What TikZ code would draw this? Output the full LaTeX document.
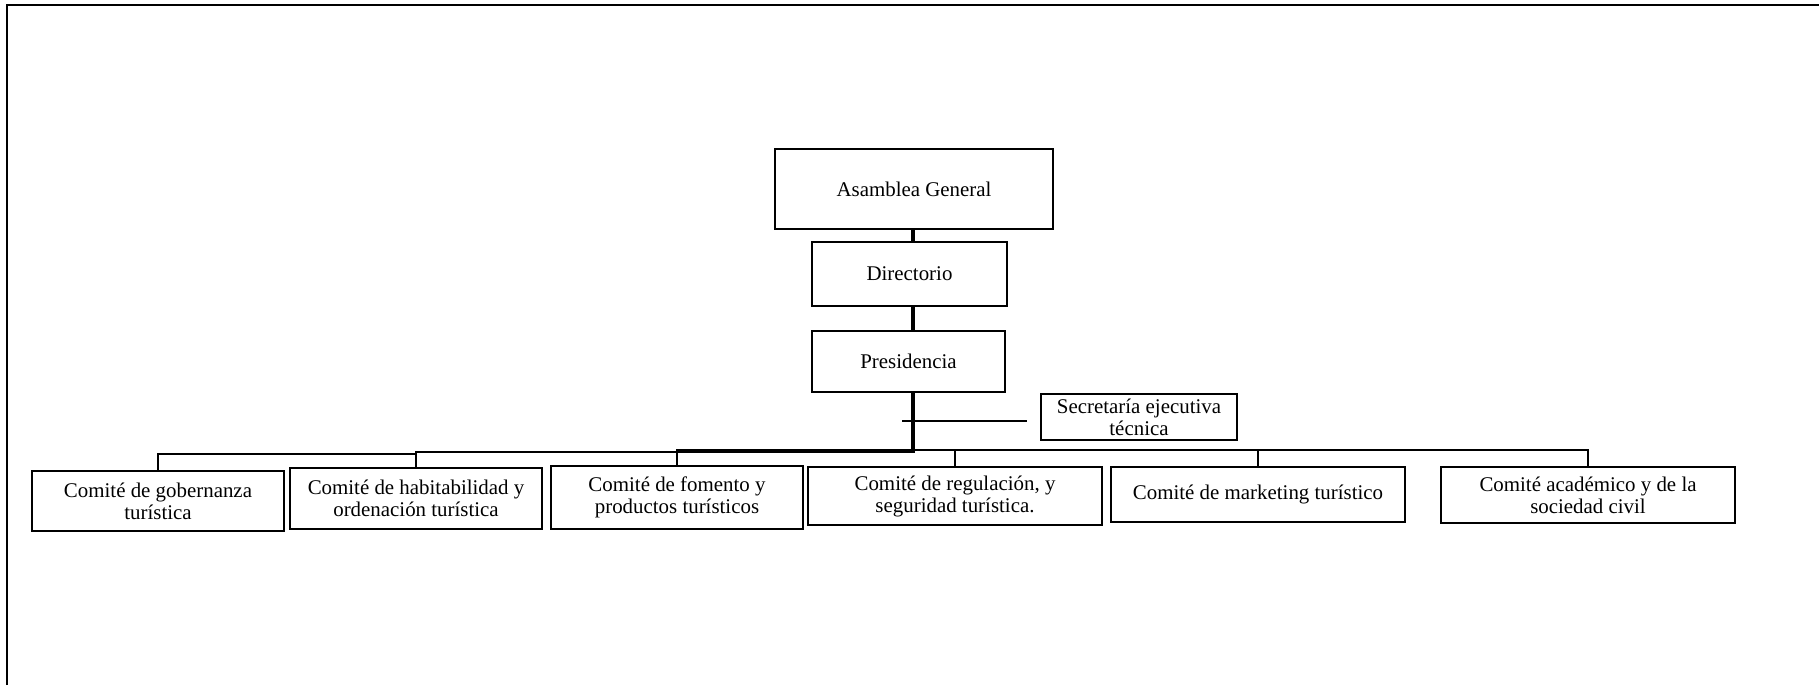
\documentclass[tikz,border=0pt]{standalone}
\usepackage{fontspec}
\setmainfont{Liberation Serif}
\begin{document}
% one unit = one pixel of the 1819 x 685 sheet, y grows downwards
\begin{tikzpicture}[x=0.5pt,y=-0.5pt,
  box/.style={draw,line width=1.25pt,fill=white,align=center,inner sep=0pt,
    font=\fontsize{10.45}{11}\selectfont},
  link/.style={line width=1.1pt},
  trunk/.style={line width=1.6pt},
  sideline/.style={line width=0.9pt},
  frame/.style={line width=1pt}]
\useasboundingbox (0,0) rectangle (1819,685);

% page frame (top and left edges)
\coordinate (fbl) at (7,685);
\coordinate (ftl) at (7,5);
\coordinate (ftr) at (1819,5);
\draw[frame] (fbl) -- (ftl) -- (ftr);

% governing bodies
\node[box,minimum width=139pt,minimum height=40pt]   (ag)   at (914,189)   {Asamblea General};
\node[box,minimum width=97.5pt,minimum height=32pt]  (dir)  at (909.5,274) {Directorio};
\node[box,minimum width=96.5pt,minimum height=30.5pt](pres) at (908.5,361.5){Presidencia};
\node[box,minimum width=98pt,minimum height=23pt]    (sec)  at (1139,417)  {Secretaría ejecutiva\\técnica};

% committees
\node[box,minimum width=126pt,minimum height=30pt]   (gob) at (158,501)   {Comité de gobernanza\\turística};
\node[box,minimum width=126pt,minimum height=30.5pt] (hab) at (416,498.5) {Comité de habitabilidad y\\ordenación turística};
\node[box,minimum width=126pt,minimum height=31.5pt] (fom) at (677,497.5) {Comité de fomento y\\productos turísticos};
\node[box,minimum width=147pt,minimum height=29pt]   (reg) at (955,496)   {Comité de regulación, y\\seguridad turística.};
\node[box,minimum width=147pt,minimum height=27.5pt] (mkt) at (1258,494.5){Comité de marketing turístico};
\node[box,minimum width=147pt,minimum height=28pt]   (aca) at (1588,495)  {Comité académico y de la\\sociedad civil};

% main trunk
\coordinate (tx) at (913,0);
\coordinate (busjoin) at (913,453);
\draw[trunk] (ag.south -| tx) -- (dir.north -| tx);
\draw[trunk] (dir.south -| tx) -- (pres.north -| tx);
\draw[trunk] (pres.south -| tx) -- (busjoin);

% side line towards the secretariat
\coordinate (s1) at (902,421);
\coordinate (s2) at (1027,421);
\draw[sideline] (s1) -- (s2);

% distribution bus to the committees
\coordinate (busA) at (0,454);
\coordinate (busB) at (0,452);
\coordinate (busC) at (0,450);
\draw[link] (gob.north) -- (gob.north |- busA) -- (hab.north |- busA);
\draw[link] (hab.north) -- (hab.north |- busB) -- (busjoin |- busB);
\draw[link] (fom.north) -- (fom.north |- busC) -- (aca.north |- busC) -- (aca.north);
\draw[link] (reg.north) -- (reg.north |- busC);
\draw[link] (mkt.north) -- (mkt.north |- busC);
\end{tikzpicture}
\end{document}
